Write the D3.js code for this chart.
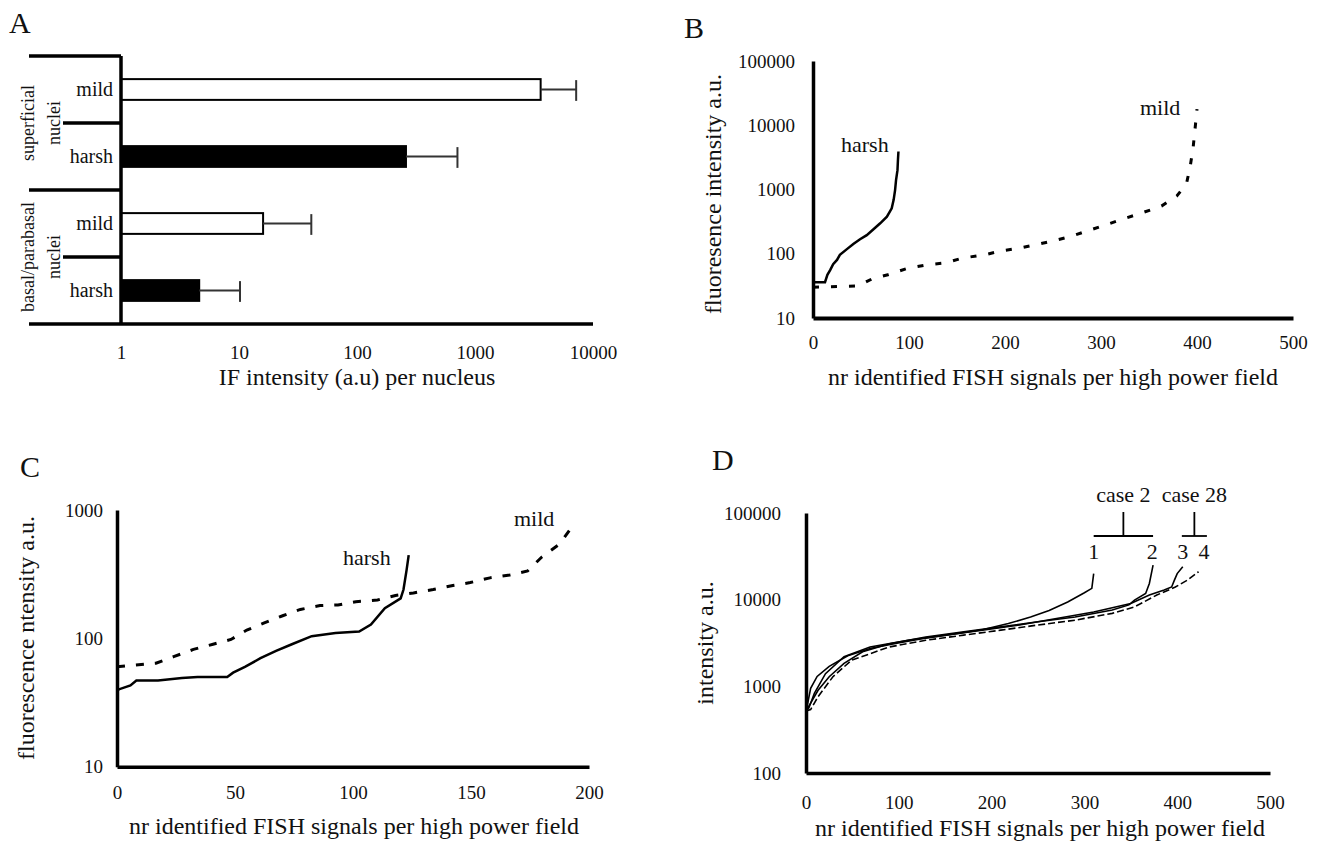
<!DOCTYPE html>
<html>
<head>
<meta charset="utf-8">
<script src="https://cdn.jsdelivr.net/npm/d3@7"></script>
<style>
  body { margin: 0; background: #fff; }
  svg text { font-family: "Liberation Serif", "Times New Roman", serif; fill: #111; }
</style>
</head>
<body>
<script>
// Panel A - IF intensity per nucleus
const aKeys = ["sup-mild", "sup-harsh", "bas-mild", "bas-harsh"];
const aLabels = ["mild", "harsh", "mild", "harsh"];
const aValues = [3600, 260, 16, 4.6];
const aErrors = [7200, 710, 41, 10.2];
const aFills = ["#fff", "#000", "#fff", "#000"];
const aGroups = [["superficial", "nuclei"], ["basal/parabasal", "nuclei"]];
const aTicks = [1, 10, 100, 1000, 10000];

// Panel B - harsh vs mild
const bHarshX = [0, 12.5, 15, 18, 21, 25, 28, 35, 42, 49, 56, 63, 70, 77, 82, 84, 85.5, 86.5, 88, 88.5, 89];
const bHarshY = [36, 36, 47, 56, 69, 80, 96, 117, 142, 168, 195, 240, 298, 378, 510, 690, 980, 1400, 2000, 2900, 3900];
const bMildX = [0, 25, 47, 62, 78, 98, 118, 138, 156, 177, 195, 216, 236, 254, 270, 286, 302, 325, 343, 363, 379, 389, 393, 396, 398, 400];
const bMildY = [30, 31, 31.5, 41, 47, 59, 67, 72, 86, 95, 110, 123, 142, 164, 189, 227, 272, 356, 434, 552, 794, 1220, 2330, 4530, 8900, 17800];
const bTicksX = [0, 100, 200, 300, 400, 500];
const bTicksY = [10, 100, 1000, 10000, 100000];

// Panel C
const cHarshX = [0, 0.7, 5.7, 8.2, 17.4, 27.5, 34.1, 46.7, 49.2, 54.2, 60.8, 67.4, 74.1, 82.5, 92.6, 102.6, 107.6, 113.5, 120.2, 121.4, 122.7, 123.6];
const cHarshY = [38, 40, 43, 47, 47, 49, 50, 50, 54, 60, 70, 80, 90, 104, 110, 113, 128, 172, 205, 240, 340, 445];
const cMildX = [0, 16.5, 24, 32.4, 40.7, 48.3, 55, 62.4, 70.2, 77.7, 86, 93.6, 101.2, 110.4, 118, 125.6, 134, 142.3, 149.7, 158, 166.5, 174, 180, 187.4, 193.3];
const cMildY = [60, 64, 72, 82, 90, 98, 116, 132, 150, 168, 180, 182, 193, 199, 216, 226, 240, 258, 272, 296, 312, 335, 430, 540, 760];
const cTicksX = [0, 50, 100, 150, 200];
const cTicksY = [10, 100, 1000];

// Panel D - four cases
const d1X = [0, 2, 5, 12, 25, 45, 70, 98, 125, 155, 190, 218, 242, 262, 282, 300, 308, 310];
const d1Y = [520, 650, 950, 1300, 1700, 2250, 2750, 3150, 3550, 3950, 4500, 5300, 6300, 7500, 9400, 12000, 13500, 20000];
const d2X = [0, 1, 5, 13, 25, 41, 61, 90, 129, 170, 210, 250, 290, 330, 348, 354, 366, 370, 374];
const d2Y = [520, 540, 640, 900, 1290, 1840, 2500, 3100, 3700, 4250, 4850, 5550, 6300, 7600, 8700, 9900, 11800, 15400, 25000];
const d3X = [0, 3, 9, 21, 41, 69, 110, 150, 190, 230, 270, 310, 350, 370, 386, 394, 397, 400, 406];
const d3Y = [520, 560, 830, 1400, 2200, 2850, 3400, 3900, 4450, 5100, 6050, 7200, 9050, 11300, 12900, 14000, 16800, 20000, 24000];
const d4X = [0, 5, 13, 29, 49, 90, 129, 170, 210, 250, 290, 330, 354, 378, 398, 411, 423];
const d4Y = [520, 540, 760, 1290, 2000, 2850, 3400, 3900, 4450, 5100, 5800, 6950, 8250, 11300, 14000, 16800, 21000];
const dNumbers = ["1", "2", "3", "4"];
const dNumberX = [310, 373, 406, 429];
const dCases = ["case 2", "case 28"];
const dCaseSpans = [[310, 374], [405, 432]];
const dTicksX = [0, 100, 200, 300, 400, 500];
const dTicksY = [100, 1000, 10000, 100000];

const fmt = d3.format("d");
const zip = (xs, ys) => xs.map((x, i) => [x, ys[i]]);

const svg = d3.select("body").append("svg")
	.attr("width", 1324)
	.attr("height", 845);

function panelLetter(t, x, y) {
	svg.append("text").attr("x", x).attr("y", y)
		.attr("font-size", 30).text(t);
}

function styleAxis(g, width) {
	g.select(".domain").attr("stroke", "#000").attr("stroke-width", width);
	g.selectAll("text").attr("font-size", 19).attr("fill", "#111")
		.attr("font-family", "Liberation Serif, Times New Roman, serif");
}

// ---------- A ----------
panelLetter("A", 9, 33);
const aX = d3.scaleLog().domain([1, 10000]).range([121, 593]);
const aY = d3.scaleBand().domain(aKeys).range([56, 324])
	.paddingInner(0.69).paddingOuter(0.345);
const step = aY.step();
const gA = svg.append("g");

// bars
gA.selectAll("rect.bar").data(aKeys).join("rect")
	.attr("x", aX(1))
	.attr("y", d => aY(d))
	.attr("width", (d, i) => aX(aValues[i]) - aX(1))
	.attr("height", aY.bandwidth())
	.attr("fill", (d, i) => aFills[i])
	.attr("stroke", "#000")
	.attr("stroke-width", 2);

// error bars
aKeys.forEach((k, i) => {
	const cy = aY(k) + aY.bandwidth() / 2;
	gA.append("line").attr("x1", aX(aValues[i])).attr("x2", aX(aErrors[i]))
		.attr("y1", cy).attr("y2", cy).attr("stroke", "#333").attr("stroke-width", 2);
	gA.append("line").attr("x1", aX(aErrors[i])).attr("x2", aX(aErrors[i]))
		.attr("y1", aY(k) + 1).attr("y2", aY(k) + aY.bandwidth() + 1)
		.attr("stroke", "#333").attr("stroke-width", 2);
	gA.append("text").attr("x", 113).attr("y", cy + 6.5)
		.attr("text-anchor", "end").attr("font-size", 20).text(aLabels[i]);
});

// structure lines: top, separators, bottom
const yTop = aY.range()[0], yBot = aY.range()[1];
gA.append("line").attr("x1", 29).attr("x2", aX(1)).attr("y1", yTop).attr("y2", yTop)
	.attr("stroke", "#000").attr("stroke-width", 3.5);
[1, 2, 3].forEach(j => {
	const y = yTop + step * j;
	gA.append("line").attr("x1", j === 2 ? 29 : 63).attr("x2", aX(1))
		.attr("y1", y).attr("y2", y).attr("stroke", "#000").attr("stroke-width", 3.5);
});
gA.append("line").attr("x1", aX(1)).attr("x2", aX(1)).attr("y1", yTop).attr("y2", yBot)
	.attr("stroke", "#000").attr("stroke-width", 3.5);
gA.append("line").attr("x1", 29).attr("x2", aX(10000)).attr("y1", yBot).attr("y2", yBot)
	.attr("stroke", "#000").attr("stroke-width", 3.5);

const axA = gA.append("g").attr("transform", `translate(0,${yBot})`)
	.call(d3.axisBottom(aX).tickValues(aTicks).tickFormat(fmt).tickSize(0).tickPadding(22));
axA.select(".domain").remove();
styleAxis(axA, 0);

// group labels (rotated)
aGroups.forEach((lines, gi) => {
	const cy = yTop + step * (gi * 2 + 1);
	lines.forEach((t, li) => {
		gA.append("text")
			.attr("transform", `translate(${li === 0 ? 33.5 : 60},${cy}) rotate(-90)`)
			.attr("text-anchor", "middle").attr("font-size", 18).text(t);
	});
});

gA.append("text").attr("x", (aX(1) + aX(10000)) / 2).attr("y", 385)
	.attr("text-anchor", "middle").attr("font-size", 24)
	.text("IF intensity (a.u) per nucleus");

// ---------- B ----------
panelLetter("B", 684, 38);
const bX = d3.scaleLinear().domain([0, 500]).range([813, 1293]);
const bY = d3.scaleLog().domain([10, 100000]).range([318, 61]);
const gB = svg.append("g");
const bLine = d3.line().x(d => bX(d[0])).y(d => bY(d[1]));

gB.append("path").attr("d", bLine(zip(bMildX, bMildY)))
	.attr("fill", "none").attr("stroke", "#000").attr("stroke-width", 3)
	.attr("stroke-dasharray", "6,12");
gB.append("path").attr("d", bLine(zip(bHarshX, bHarshY)))
	.attr("fill", "none").attr("stroke", "#000").attr("stroke-width", 2.5);

const bxAxis = gB.append("g").attr("transform", `translate(0,${bY(10)})`)
	.call(d3.axisBottom(bX).tickValues(bTicksX).tickFormat(fmt).tickSize(0).tickSizeOuter(0).tickPadding(18));
styleAxis(bxAxis, 4);
const byAxis = gB.append("g").attr("transform", `translate(${bX(0)},0)`)
	.call(d3.axisLeft(bY).tickValues(bTicksY).tickFormat(fmt).tickSize(0).tickSizeOuter(0).tickPadding(18));
styleAxis(byAxis, 3.5);

gB.append("text").attr("x", 841).attr("y", 152).attr("font-size", 22).text("harsh");
gB.append("text").attr("x", 1140).attr("y", 115).attr("font-size", 22).text("mild");
gB.append("text").attr("x", 1053).attr("y", 385).attr("text-anchor", "middle")
	.attr("font-size", 24).text("nr identified FISH signals per high power field");
gB.append("text").attr("transform", `translate(721,194) rotate(-90)`)
	.attr("text-anchor", "middle").attr("font-size", 24).text("fluoresence intensity a.u.");

// ---------- C ----------
panelLetter("C", 20, 477);
const cX = d3.scaleLinear().domain([0, 200]).range([117, 589]);
const cY = d3.scaleLog().domain([10, 1000]).range([766.7, 510]);
const gC = svg.append("g");
const cLine = d3.line().x(d => cX(d[0])).y(d => cY(d[1]));

gC.append("path").attr("d", cLine(zip(cMildX, cMildY)))
	.attr("fill", "none").attr("stroke", "#000").attr("stroke-width", 3)
	.attr("stroke-dasharray", "8,11");
gC.append("path").attr("d", cLine(zip(cHarshX, cHarshY)))
	.attr("fill", "none").attr("stroke", "#000").attr("stroke-width", 2.5);

const cxAxis = gC.append("g").attr("transform", `translate(0,${cY(10)})`)
	.call(d3.axisBottom(cX).tickValues(cTicksX).tickFormat(fmt).tickSize(0).tickSizeOuter(0).tickPadding(19));
styleAxis(cxAxis, 3.5);
const cyAxis = gC.append("g").attr("transform", `translate(${cX(0)},0)`)
	.call(d3.axisLeft(cY).tickValues(cTicksY).tickFormat(fmt).tickSize(0).tickSizeOuter(0).tickPadding(14));
styleAxis(cyAxis, 3.5);

gC.append("text").attr("x", 343).attr("y", 565).attr("font-size", 22).text("harsh");
gC.append("text").attr("x", 514).attr("y", 526).attr("font-size", 22).text("mild");
gC.append("text").attr("x", 354).attr("y", 834).attr("text-anchor", "middle")
	.attr("font-size", 24).text("nr identified FISH signals per high power field");
gC.append("text").attr("transform", `translate(34,638) rotate(-90)`)
	.attr("text-anchor", "middle").attr("font-size", 24).text("fluorescence ntensity a.u.");

// ---------- D ----------
panelLetter("D", 712, 470);
const dX = d3.scaleLinear().domain([0, 500]).range([806, 1270]);
const dY = d3.scaleLog().domain([100, 100000]).range([773, 513]);
const gD = svg.append("g");
const dLine = d3.line().x(d => dX(d[0])).y(d => dY(d[1]));

[[d1X, d1Y], [d2X, d2Y], [d3X, d3Y]].forEach(([xs, ys]) => {
	gD.append("path").attr("d", dLine(zip(xs, ys)))
		.attr("fill", "none").attr("stroke", "#000").attr("stroke-width", 1.6);
});
gD.append("path").attr("d", dLine(zip(d4X, d4Y)))
	.attr("fill", "none").attr("stroke", "#000").attr("stroke-width", 1.6)
	.attr("stroke-dasharray", "7,3");

const dxAxis = gD.append("g").attr("transform", `translate(0,${dY(100)})`)
	.call(d3.axisBottom(dX).tickValues(dTicksX).tickFormat(fmt).tickSize(0).tickSizeOuter(0).tickPadding(23));
styleAxis(dxAxis, 3.5);
const dyAxis = gD.append("g").attr("transform", `translate(${dX(0)},0)`)
	.call(d3.axisLeft(dY).tickValues(dTicksY).tickFormat(fmt).tickSize(0).tickSizeOuter(0).tickPadding(25));
styleAxis(dyAxis, 3.5);

// case brackets
dCases.forEach((t, i) => {
	const [a, b] = dCaseSpans[i];
	const mid = dX((a + b) / 2);
	gD.append("line").attr("x1", dX(a)).attr("x2", dX(b)).attr("y1", 536).attr("y2", 536)
		.attr("stroke", "#000").attr("stroke-width", 1.8);
	gD.append("line").attr("x1", mid).attr("x2", mid).attr("y1", 512).attr("y2", 536)
		.attr("stroke", "#000").attr("stroke-width", 1.8);
	gD.append("text").attr("x", mid).attr("y", 502).attr("text-anchor", "middle")
		.attr("font-size", 22).text(t);
});
dNumbers.forEach((t, i) => {
	gD.append("text").attr("x", dX(dNumberX[i])).attr("y", 559)
		.attr("text-anchor", "middle").attr("font-size", 22).text(t);
});

gD.append("text").attr("x", 1040).attr("y", 836).attr("text-anchor", "middle")
	.attr("font-size", 24).text("nr identified FISH signals per high power field");
gD.append("text").attr("transform", `translate(713,643) rotate(-90)`)
	.attr("text-anchor", "middle").attr("font-size", 24).text("intensity a.u.");
</script>
</body>
</html>
